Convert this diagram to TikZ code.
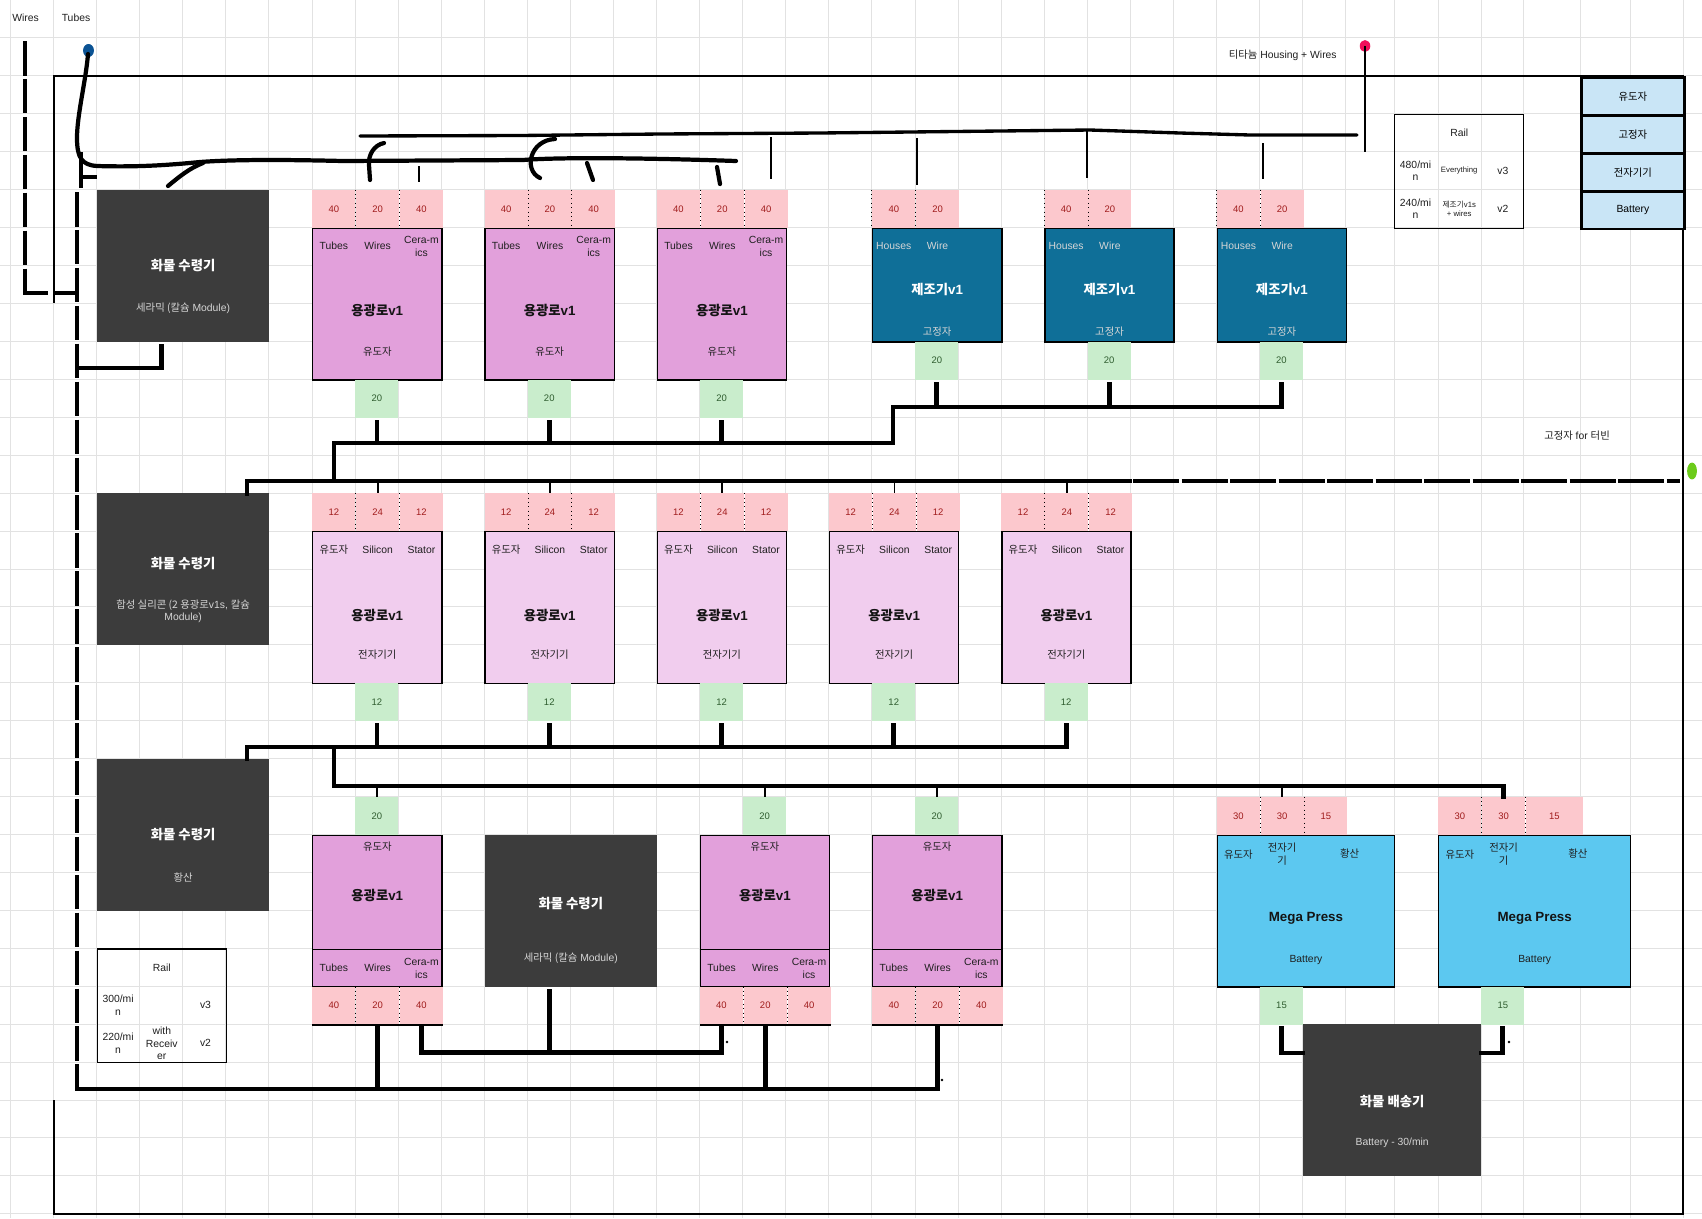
\documentclass[tikz,border=0pt]{standalone}
\usepackage{fontspec}
\setmainfont{Liberation Sans}
\newfontfamily\kr{Noto Sans CJK KR}
\usetikzlibrary{positioning,calc}
\newlength\unitpx
\setlength\unitpx{0.02cm}
\newcommand\K[1]{{\kr #1}}
\definecolor{gridgrey}{HTML}{E2E2E2}
\definecolor{inpink}{HTML}{FCC8CD}
\definecolor{numred}{HTML}{A01C1C}
\definecolor{outgreen}{HTML}{C9EDCC}
\definecolor{numgreen}{HTML}{2F5D2F}
\definecolor{furnacepink}{HTML}{E2A0DB}
\definecolor{furnacelight}{HTML}{F1CDEE}
\definecolor{constructorblue}{HTML}{0F6F98}
\definecolor{receivergrey}{HTML}{3C3C3C}
\definecolor{pressblue}{HTML}{5CC8F0}
\definecolor{keyblue}{HTML}{C9E5F6}
\definecolor{tubeblue}{HTML}{0B5394}
\definecolor{wirered}{HTML}{F0105A}
\definecolor{statorgreen}{HTML}{6CCB1A}
\definecolor{paletext}{HTML}{D6D6D6}
\begin{document}
\begin{tikzpicture}[
  x=0.02cm, y=-0.02cm,
  gridline/.style={draw=gridgrey, line width=0.5pt},
  txt/.style={inner sep=0, align=center, text=black!88, font=\fontsize{5.9}{7.2}\selectfont},
  tinytxt/.style={txt, font=\fontsize{4.4}{5.2}\selectfont},
  heading/.style={inner sep=0, align=center, text=black!92, font=\fontsize{7.6}{9}\selectfont\bfseries},
  slot/.style={rectangle, inner sep=0, anchor=north west, minimum width=43.07\unitpx, minimum height=37.93\unitpx, font=\fontsize{5.4}{6.4}\selectfont},
  inslot/.style={slot, fill=inpink, text=numred},
  outslot/.style={slot, fill=outgreen, text=numgreen},
  divider/.style={dotted, line width=0.5pt},
  machine/.style={rectangle, draw, line width=0.8pt, inner sep=0, anchor=north west, minimum width=129.2\unitpx, minimum height=151.7\unitpx},
  receiver/.style={rectangle, fill=receivergrey, inner sep=0, anchor=north west, minimum width=172.3\unitpx, minimum height=151.7\unitpx},
  railbox/.style={rectangle, draw, line width=0.7pt, inner sep=0, anchor=north west, minimum width=129.2\unitpx, minimum height=113.8\unitpx},
  keybox/.style={rectangle, draw, line width=1.6pt, fill=keyblue, inner sep=0, anchor=north west, minimum width=103\unitpx, minimum height=37.93\unitpx, font=\fontsize{5.9}{7.2}\selectfont},
  belt/.style={line width=2.8pt, line cap=rect},
  dashbelt/.style={line width=2.8pt, line cap=butt, dash pattern=on 34.5\unitpx off 3.43\unitpx},
  stub/.style={line width=1.1pt},
  hand/.style={line width=2.4pt, line cap=round, line join=round},
  framing/.style={line width=1.1pt}
]
\useasboundingbox (0,0) rectangle (1702,1218);
\fill[white] (0,0) rectangle (1702,1218);
\foreach \i in {0,...,31} \draw[gridline] ({10.5+43.07*\i},0) -- ({10.5+43.07*\i},1218);
\foreach \gx in {1394,1438,1481,1523,1580,1630,1683} \draw[gridline] (\gx,0) -- (\gx,1218);
\foreach \j in {1,...,32} \draw[gridline] (0,{37.93*\j}) -- (1702,{37.93*\j});

\node[txt] (wires-key) at (25.5,18) {Wires};
\node[txt] (tubes-key) at (76,18) {Tubes};
\node[txt, anchor=east] (ti-note) at (1337,55) {\K{티타늄} Housing + Wires};
\node[txt] (stator-note) at (1577,436) {\K{고정자} for \K{터빈}};

\draw[framing] (54,303) -- (54,75.9) -- (1683,75.9) -- (1683,1214) -- (54,1214) -- (54,1100);

\foreach \k/\lab in {0/\K{유도자},1/\K{고정자},2/\K{전자기기},3/Battery}
  \node[keybox] (key-\k) at (1580,{75.9+37.93*\k}) {\lab};

\node[railbox] (rail-top) at (1394,113.8) {};
\node[txt] at ($(rail-top.north)+(0,19)$) {Rail};
\node[txt] at ($(rail-top.north west)+(21.5,57)$) {480/mi\\n};
\node[tinytxt] at ($(rail-top.north)+(0,57)$) {Everything};
\node[txt] at ($(rail-top.north east)+(-21.5,57)$) {v3};
\node[txt] at ($(rail-top.north west)+(21.5,95)$) {240/mi\\n};
\node[tinytxt] at ($(rail-top.north)+(0,95)$) {\K{제조기}v1s\\+ wires};
\node[txt] at ($(rail-top.north east)+(-21.5,95)$) {v2};

\node[railbox] (rail-low) at (96.6,948.3) {};
\node[txt] at ($(rail-low.north)+(0,19)$) {Rail};
\node[txt] at ($(rail-low.north west)+(21.5,57)$) {300/mi\\n};
\node[txt] at ($(rail-low.north east)+(-21.5,57)$) {v3};
\node[txt] at ($(rail-low.north west)+(21.5,95)$) {220/mi\\n};
\node[txt] at ($(rail-low.north)+(0,95)$) {with\\Receiv\\er};
\node[txt] at ($(rail-low.north east)+(-21.5,95)$) {v2};

% receivers and shipper
\node[receiver] (recv-a) at (96.6,189.65) {};
\node[heading, text=white] at ($(recv-a.north)+(0,76)$) {\K{화물 수령기}};
\node[txt, text=paletext] at ($(recv-a.north)+(0,119)$) {\K{세라믹 (칼슘} Module)};
\node[receiver] (recv-b) at (96.6,493.1) {};
\node[heading, text=white] at ($(recv-b.north)+(0,70)$) {\K{화물 수령기}};
\node[txt, text=paletext] at ($(recv-b.north)+(0,118)$) {\K{합성 실리콘 (2 용광로}v1s, \K{칼슘}\\Module)};
\node[receiver] (recv-c) at (96.6,758.6) {};
\node[heading, text=white] at ($(recv-c.north)+(0,76)$) {\K{화물 수령기}};
\node[txt, text=paletext] at ($(recv-c.north)+(0,119)$) {\K{황산}};
\node[receiver] (recv-m) at (484.3,834.5) {};
\node[heading, text=white] at ($(recv-m.north)+(0,69)$) {\K{화물 수령기}};
\node[txt, text=paletext] at ($(recv-m.north)+(0,124)$) {\K{세라믹 (칼슘} Module)};
\node[receiver, minimum width=178.4\unitpx] (ship) at (1302.6,1024.1) {};
\node[heading, text=white] at ($(ship.north)+(0,77)$) {\K{화물 배송기}};
\node[txt, text=paletext] at ($(ship.north)+(0,119)$) {Battery - 30/min};

% furnaces, row A
\foreach \n/\fx in {1/312, 2/484.3, 3/656.6} {
  \node[inslot] (fa\n-t) at (\fx,189.65) {40};
  \node[inslot, right=0pt of fa\n-t] (fa\n-w) {20};
  \node[inslot, right=0pt of fa\n-w] (fa\n-c) {40};
  \draw[divider] (fa\n-t.north east) -- (fa\n-t.south east) (fa\n-w.north east) -- (fa\n-w.south east);
  \node[machine, fill=furnacepink] (fa\n) at (\fx,227.6) {};
  \node[outslot] (fa\n-o) at ({\fx+43.07},379.3) {20};
  \node[txt] at ($(fa\n-t.south)+(0,18)$) {Tubes};
  \node[txt] at ($(fa\n-w.south)+(0,18)$) {Wires};
  \node[txt] at ($(fa\n-c.south)+(0,18)$) {Cera-m\\ics};
  \node[heading] at ($(fa\n.north)+(0,83)$) {\K{용광로}v1};
  \node[txt] at ($(fa\n.north)+(0,124)$) {\K{유도자}};
}

% constructors
\foreach \n/\cx in {1/871.9, 2/1044.2, 3/1216.5} {
  \node[inslot] (ca\n-h) at (\cx,189.65) {40};
  \node[inslot, right=0pt of ca\n-h] (ca\n-w) {20};
  \draw[divider] (ca\n-h.north west) -- (ca\n-h.south west) (ca\n-h.north east) -- (ca\n-h.south east);
  \node[machine, fill=constructorblue, minimum height=113.8\unitpx] (ca\n) at (\cx,227.6) {};
  \node[outslot] (ca\n-o) at ({\cx+43.07},341.4) {20};
  \node[txt, text=paletext] at ($(ca\n-h.south)+(0,18)$) {Houses};
  \node[txt, text=paletext] at ($(ca\n-w.south)+(0,18)$) {Wire};
  \node[heading, text=white] at ($(ca\n.north)+(0,62)$) {\K{제조기}v1};
  \node[txt, text=paletext] at ($(ca\n.north)+(0,104)$) {\K{고정자}};
}

% furnaces, row B
\foreach \n/\fx in {1/312, 2/484.3, 3/656.6, 4/828.8, 5/1001.1} {
  \node[inslot] (fb\n-i) at (\fx,493.1) {12};
  \node[inslot, right=0pt of fb\n-i] (fb\n-s) {24};
  \node[inslot, right=0pt of fb\n-s] (fb\n-r) {12};
  \draw[divider] (fb\n-i.north east) -- (fb\n-i.south east) (fb\n-s.north east) -- (fb\n-s.south east);
  \node[machine, fill=furnacelight] (fb\n) at (\fx,531) {};
  \node[outslot] (fb\n-o) at ({\fx+43.07},682.7) {12};
  \node[txt] at ($(fb\n-i.south)+(0,18)$) {\K{유도자}};
  \node[txt] at ($(fb\n-s.south)+(0,18)$) {Silicon};
  \node[txt] at ($(fb\n-r.south)+(0,18)$) {Stator};
  \node[heading] at ($(fb\n.north)+(0,84)$) {\K{용광로}v1};
  \node[txt] at ($(fb\n.north)+(0,124)$) {\K{전자기기}};
}

% furnaces, row C
\foreach \n/\fx in {1/312, 2/699.6, 3/871.9} {
  \node[outslot] (fc\n-i) at ({\fx+43.07},796.5) {20};
  \node[machine, fill=furnacepink] (fc\n) at (\fx,834.5) {};
  \draw[line width=0.8pt] ($(fc\n.south west)+(0,-37.93)$) -- ($(fc\n.south east)+(0,-37.93)$);
  \node[inslot] (fc\n-t) at (\fx,986.2) {40};
  \node[inslot, right=0pt of fc\n-t] (fc\n-w) {20};
  \node[inslot, right=0pt of fc\n-w] (fc\n-c) {40};
  \draw[divider] (fc\n-t.north east) -- (fc\n-t.south east) (fc\n-w.north east) -- (fc\n-w.south east);
  \draw[line width=0.8pt] (fc\n-t.south west) -- (fc\n-c.south east);
  \node[txt] at ($(fc\n.north)+(0,12)$) {\K{유도자}};
  \node[heading] at ($(fc\n.north)+(0,61)$) {\K{용광로}v1};
  \node[txt] at ($(fc\n-t.north)+(0,-18)$) {Tubes};
  \node[txt] at ($(fc\n-w.north)+(0,-18)$) {Wires};
  \node[txt] at ($(fc\n-c.north)+(0,-18)$) {Cera-m\\ics};
}

% mega presses
\node[machine, fill=pressblue, minimum width=177.5\unitpx] (mp1) at (1216.5,834.5) {};
\node[inslot] (mp1-i) at (1216.5,796.5) {30};
\node[inslot, right=0pt of mp1-i] (mp1-e) {30};
\node[inslot, right=0pt of mp1-e] (mp1-s) {15};
\draw[divider] (mp1-i.north east) -- (mp1-i.south east) (mp1-e.north east) -- (mp1-e.south east);
\node[outslot] (mp1-o) at (1259.6,986.2) {15};
\node[txt] at ($(mp1-i.south)+(0,19)$) {\K{유도자}};
\node[txt] at ($(mp1-e.south)+(0,19)$) {\K{전자기}\\\K{기}};
\node[txt] at ($(mp1.north east)+(-45.7,19)$) {\K{황산}};
\node[heading] at ($(mp1.north)+(0,84)$) {Mega Press};
\node[txt] at ($(mp1.north)+(0,125)$) {Battery};

\node[machine, fill=pressblue, minimum width=192\unitpx] (mp2) at (1438,834.5) {};
\node[inslot] (mp2-i) at (1438,796.5) {30};
\node[inslot, right=0pt of mp2-i] (mp2-e) {30};
\node[inslot, minimum width=57\unitpx, right=0pt of mp2-e] (mp2-s) {15};
\draw[divider] (mp2-i.north east) -- (mp2-i.south east) (mp2-e.north east) -- (mp2-e.south east);
\node[outslot] (mp2-o) at (1481,986.2) {15};
\node[txt] at ($(mp2-i.south)+(0,19)$) {\K{유도자}};
\node[txt] at ($(mp2-e.south)+(0,19)$) {\K{전자기}\\\K{기}};
\node[txt] at ($(mp2.north east)+(-53.5,19)$) {\K{황산}};
\node[heading] at ($(mp2.north)+(0,84)$) {Mega Press};
\node[txt] at ($(mp2.north)+(0,125)$) {Battery};

% belts
\coordinate (a-bus-w) at (334,443);
\coordinate (a-bus-e) at (893,443);
\coordinate (c-bus-e) at (893,407);
\foreach \n in {1,2,3} {
  \draw[belt] ($(fa\n-o.south)+(0,5)$) -- (fa\n-o.south |- a-bus-w);
  \draw[belt] ($(ca\n-o.south)+(0,4)$) -- (ca\n-o.south |- c-bus-e);
}
\draw[belt] (334,481) -- (a-bus-w) -- (a-bus-e) -- (c-bus-e) -- (ca3-o.south |- c-bus-e);

\coordinate (main-w) at (247,481);
\draw[belt] (recv-b.north -| main-w) -- (main-w) -- (1130,481);
\draw[line width=2.8pt, line cap=butt, dash pattern=on 46\unitpx off 2.5\unitpx] (1133,481) -- (1680,481);
\foreach \n in {1,...,5} \draw[stub] (fb\n-s.north |- main-w) -- (fb\n-s.north);

\coordinate (b-bus-w) at (247,747);
\foreach \n in {1,...,5} \draw[belt] ($(fb\n-o.south)+(0,4)$) -- (fb\n-o.south |- b-bus-w);
\draw[belt] (recv-c.north -| b-bus-w) -- (b-bus-w) -- (fb5-o.south |- b-bus-w);

\coordinate (c-in-w) at (334,786);
\draw[belt] (334,747) -- (c-in-w) -- (mp2-e.north |- c-in-w) -- (mp2-e.north);
\foreach \s in {fc1-i,fc2-i,fc3-i,mp1-e} \draw[stub] (\s.north |- c-in-w) -- (\s.north);

\draw[belt] ($(fc1-c.south)+(0,4)$) |- ($(fc2-t.south)+(0,28)$) -- ($(fc2-t.south)+(0,4)$);
\draw[belt] ($(recv-m.south west)+(65,5)$) -- ($(recv-m.south west)+(65,66)$);

\coordinate (floor-w) at (77,1089);
\foreach \s in {fc1-w,fc2-w,fc3-w} \draw[belt] ($(\s.south)+(0,4)$) -- (\s.south |- floor-w);
\draw[belt] (floor-w) -- (fc3-w.south |- floor-w);
\draw[dashbelt] (77,192) -- (floor-w);
\draw[belt] ($(recv-a.south west)+(65,4)$) |- (80,368);

\draw[belt] ($(mp1-o.south)+(0,4)$) |- (ship.west |- 0,1053);
\draw[belt] ($(mp2-o.south)+(0,4)$) |- (ship.east |- 0,1053);
\foreach \dx/\dy in {727/1042, 942/1080, 1509/1042} \fill (\dx,\dy) circle[radius=0.8pt];

% wires line on the left
\draw[dashbelt] (25,41) -- (25,288);
\draw[belt, line cap=butt] (25,286) -- (25,293) -- (48,293);
\draw[belt, line cap=butt] (55,293) -- (77,293);

% hand drawn tubes and wires
\fill[tubeblue] (88.5,50.5) ellipse[x radius=3.1pt, y radius=3.7pt];
\draw[hand] (88,54) .. controls (86,80) and (77,115) .. (77,138) .. controls (77,158) and (82,165) .. (97,166) .. controls (130,167) and (160,166) .. (200,162) .. controls (240,159) and (300,160) .. (343,161) -- (523,160) .. controls (560,157) and (650,158) .. (736,161);
\draw[hand] (168,186) .. controls (180,176) and (190,168) .. (203,163);
\draw[belt, line cap=butt] (81,152) -- (81,188);
\draw[belt, line cap=butt] (81,177) -- (97,177);
\draw[hand] (384,143) .. controls (374,145) and (368,155) .. (369,165) -- (370,180);
\draw[hand] (555,139) .. controls (530,140) and (523,170) .. (540,178);
\draw[hand] (587,163) -- (593,180);
\draw[hand] (717,167) -- (720,184);
\draw[stub, line width=1.2pt] (419,166) -- (419,182);

\draw[hand, line width=1.9pt] (360,136) -- (520,135.5) -- (660,134) -- (820,133) -- (1000,131) -- (1090,130) -- (1180,133) -- (1250,135) -- (1357,135);
\foreach \vx/\va/\vb in {771/137/179, 917/138/185, 1087/130/178, 1263/143/179}
  \draw[line width=1.2pt] (\vx,\va) -- (\vx,\vb);
\fill[wirered] (1365,46) ellipse[x radius=3pt, y radius=3.4pt];
\draw[line width=1.2pt] (1365,46) -- (1365,152);
\fill[statorgreen] (1692,471) ellipse[x radius=2.8pt, y radius=4.8pt];
\end{tikzpicture}
\end{document}
